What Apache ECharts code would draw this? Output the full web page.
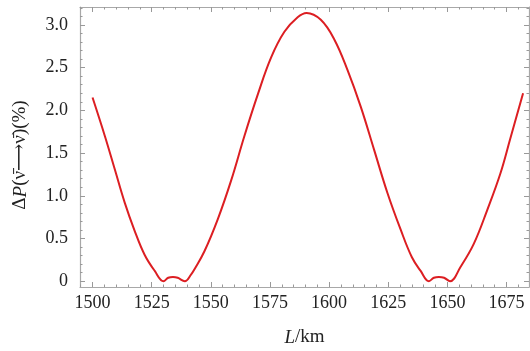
<!DOCTYPE html>
<html>
<head>
<meta charset="utf-8">
<script src="https://cdn.jsdelivr.net/npm/echarts@6.0.0/dist/echarts.min.js"></script>
<style>
  html, body { margin: 0; padding: 0; background: #fff; }
  #chart { width: 530px; height: 351px; }
</style>
</head>
<body>
<div id="chart"></div>
<script>
// values
const lengthKm = [1500, 1505.2, 1509.4, 1513.6, 1517.8, 1522, 1526.3, 1530, 1532, 1534, 1536, 1539,
  1541.7, 1543.1, 1547.3, 1553, 1558.6, 1564.2, 1569.9, 1575.5, 1581.1, 1586.7, 1590.5, 1596.5,
  1602.2, 1607.8, 1613.4, 1619, 1624.7, 1630.3, 1635, 1638.7, 1642.2, 1644.3, 1646.4, 1648.6,
  1651.1, 1655.6, 1661.2, 1666.8, 1672.4, 1676.6, 1682];
const deltaP = [2.15, 1.70, 1.31, 0.92, 0.59, 0.31, 0.12, 0.0, 0.04, 0.05, 0.04, 0.0,
  0.08, 0.14, 0.35, 0.73, 1.18, 1.70, 2.19, 2.62, 2.92, 3.09, 3.14, 3.06,
  2.83, 2.47, 2.04, 1.54, 1.03, 0.6, 0.28, 0.12, 0.0, 0.04, 0.05, 0.04,
  0.0, 0.17, 0.44, 0.83, 1.26, 1.67, 2.2];

const xTicks = [1500, 1525, 1550, 1575, 1600, 1625, 1650, 1675];
const xMinorTicks = [1495, 1505, 1510, 1515, 1520, 1530, 1535, 1540, 1545, 1555, 1560, 1565, 1570,
  1580, 1585, 1590, 1595, 1605, 1610, 1615, 1620, 1630, 1635, 1640, 1645, 1655, 1660, 1665, 1670, 1680];
const yTicks = [0, 0.5, 1.0, 1.5, 2.0, 2.5, 3.0];
const yMinorTicks = [0.1, 0.2, 0.3, 0.4, 0.6, 0.7, 0.8, 0.9, 1.1, 1.2, 1.3, 1.4, 1.6, 1.7, 1.8, 1.9,
  2.1, 2.2, 2.3, 2.4, 2.6, 2.7, 2.8, 2.9, 3.1, 3.2];

const frameColor = '#a8a8a8';
const serif = '"Liberation Serif", "DejaVu Serif", serif';

const chart = echarts.init(document.getElementById('chart'));

const rich = {
  i: { fontFamily: serif, fontSize: 19, fontStyle: 'italic', color: '#222' },
  a: { fontFamily: serif, fontSize: 19, color: '#222' }
};

function xAx(pos, ticks, len, main) {
  return {
    type: 'value', min: 1494.7, max: 1684.5, position: pos,
    name: main ? '{i|L}{a|/km}' : '',
    nameLocation: 'middle', nameGap: 41,
    nameTextStyle: { rich },
    axisLine: { show: len > 3, onZero: false, lineStyle: { color: frameColor, width: 1.2 } },
    axisTick: { show: true, inside: true, length: len, customValues: ticks, lineStyle: { color: '#999' } },
    axisLabel: main ? {
      customValues: xTicks, margin: 7, color: '#222', fontFamily: serif, fontSize: 18,
      formatter: v => String(Math.round(v))
    } : { show: false },
    splitLine: { show: false }
  };
}

function yAx(pos, ticks, len, main) {
  return {
    type: 'value', min: -0.068, max: 3.21, position: pos,
    name: main ? '{a|Δ}{i|P}{a|(ν̄⟶ν̄)(%)}' : '',
    nameLocation: 'middle', nameGap: 50, nameRotate: 90,
    nameTextStyle: { rich, padding: [0, 16, 0, 0] },
    axisLine: { show: len > 3, onZero: false, lineStyle: { color: frameColor, width: 1.2 } },
    axisTick: { show: true, inside: true, length: len, customValues: ticks, lineStyle: { color: '#999' } },
    axisLabel: main ? {
      customValues: yTicks, margin: 12, color: '#222', fontFamily: serif, fontSize: 18,
      formatter: v => (v === 0 ? '0' : v.toFixed(1))
    } : { show: false },
    splitLine: { show: false }
  };
}

const option = {
  backgroundColor: '#fff',
  animation: false,
  grid: { left: 80, right: 1, top: 7, bottom: 64, outerBoundsMode: 'none' },
  xAxis: [
    xAx('bottom', xTicks, 5, true),
    xAx('top', xTicks, 5, false),
    xAx('bottom', xMinorTicks, 2.5, false),
    xAx('top', xMinorTicks, 2.5, false)
  ],
  yAxis: [
    yAx('left', yTicks, 5, true),
    yAx('right', yTicks, 5, false),
    yAx('left', yMinorTicks, 2.5, false),
    yAx('right', yMinorTicks, 2.5, false)
  ],
  series: [{
    type: 'line',
    xAxisIndex: 0,
    yAxisIndex: 0,
    data: lengthKm.map((x, i) => [x, deltaP[i]]),
    showSymbol: false,
    smooth: 0.4,
    lineStyle: { color: '#dc1e22', width: 2 }
  }]
};

chart.setOption(option);
</script>
</body>
</html>
